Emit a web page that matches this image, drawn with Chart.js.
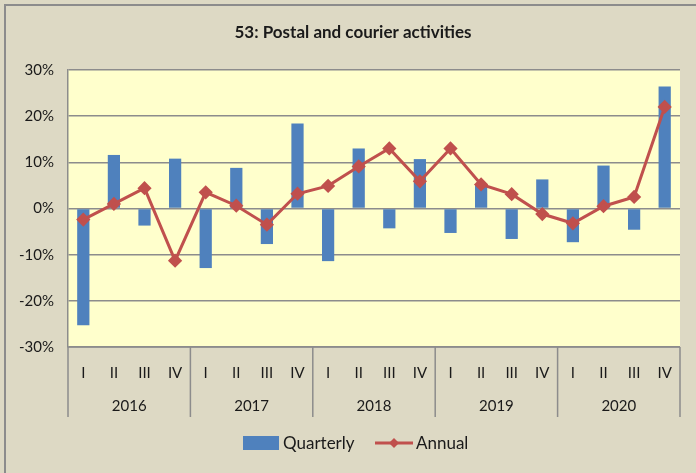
<!DOCTYPE html>
<html>
<head>
<meta charset="utf-8">
<script src="https://cdn.jsdelivr.net/npm/chart.js@4"></script>
<style>
  html, body { margin: 0; padding: 0; background: #ddd9c4; }
  #wrap { width: 696px; height: 473px; position: relative; }
</style>
</head>
<body>
<div id="wrap"><canvas id="chart" width="696" height="473"></canvas></div>
<script>
const quarters = ['I', 'II', 'III', 'IV'];
const years = ['2016', '2017', '2018', '2019', '2020'];
const labels = years.flatMap(y => quarters);

const quarterly = [-25.3, 11.6, -3.7, 10.8, -12.9, 8.8, -7.7, 18.4, -11.4, 13.0,
                   -4.3, 10.7, -5.3, 5.3, -6.6, 6.3, -7.3, 9.3, -4.6, 26.4];
const annual = [-2.4, 1.0, 4.4, -11.3, 3.5, 0.6, -3.5, 3.2, 4.9, 9.1,
                13.0, 5.9, 13.0, 5.2, 3.1, -1.2, -3.2, 0.5, 2.5, 22.0];

const title = '53: Postal and courier activities';

const FONT = 'Lato, "Open Sans", sans-serif';
const TXT = '#1a1a1a';

// background, outer frame, plot fill, title
const frame = {
  id: 'frame',
  beforeDraw(chart) {
    const { ctx, chartArea: a } = chart;
    ctx.save();
    ctx.fillStyle = '#ddd9c4';
    ctx.fillRect(0, 0, chart.width, chart.height);
    ctx.strokeStyle = '#8c8c8c';
    ctx.lineWidth = 2;
    ctx.beginPath();
    ctx.moveTo(5, chart.height);
    ctx.lineTo(5, 5);
    ctx.lineTo(chart.width, 5);
    ctx.stroke();
    ctx.fillStyle = '#ffffcc';
    ctx.fillRect(a.left, a.top, a.right - a.left, a.bottom - a.top);
    ctx.fillStyle = TXT;
    ctx.font = 'bold 17px ' + FONT;
    ctx.textAlign = 'center';
    ctx.textBaseline = 'middle';
    ctx.fillText(title, 353, 33);
    ctx.restore();
  }
};

// year groups under the quarter labels, plus legend
const groups = {
  id: 'groups',
  afterDraw(chart) {
    const { ctx, chartArea: a } = chart;
    const x = chart.scales.x;
    ctx.save();
    ctx.strokeStyle = '#8c8c8c';
    ctx.lineWidth = 1.5;
    ctx.beginPath();
    ctx.moveTo(a.left, a.bottom);
    ctx.lineTo(a.right, a.bottom);
    for (let g = 0; g <= years.length; g++) {
      let px;
      if (g === 0) px = a.left;
      else if (g === years.length) px = a.right;
      else px = (x.getPixelForValue(g * 4 - 1) + x.getPixelForValue(g * 4)) / 2;
      ctx.moveTo(px, a.bottom);
      ctx.lineTo(px, a.bottom + 70);
    }
    ctx.stroke();
    ctx.fillStyle = TXT;
    ctx.font = '15px ' + FONT;
    ctx.textAlign = 'center';
    ctx.textBaseline = 'middle';
    years.forEach((y, g) => {
      const c = (x.getPixelForValue(g * 4 + 1) + x.getPixelForValue(g * 4 + 2)) / 2;
      ctx.fillText(y, c, a.bottom + 59);
    });

    // legend
    const ly = 443;
    ctx.fillStyle = '#4f81bd';
    ctx.fillRect(243, ly - 7, 36, 14);
    ctx.fillStyle = TXT;
    ctx.textAlign = 'left';
    ctx.font = '17px ' + FONT;
    ctx.fillText('Quarterly', 283, ly + 1);
    ctx.strokeStyle = '#c0504d';
    ctx.lineWidth = 3;
    ctx.beginPath();
    ctx.moveTo(375, ly);
    ctx.lineTo(413, ly);
    ctx.stroke();
    ctx.fillStyle = '#c0504d';
    ctx.beginPath();
    ctx.moveTo(394, ly - 5);
    ctx.lineTo(399, ly);
    ctx.lineTo(394, ly + 5);
    ctx.lineTo(389, ly);
    ctx.closePath();
    ctx.fill();
    ctx.fillStyle = TXT;
    ctx.fillText('Annual', 416, ly + 1);
    ctx.restore();
  }
};

new Chart(document.getElementById('chart'), {
  data: {
    labels: labels,
    datasets: [
      {
        type: 'line',
        label: 'Annual',
        data: annual,
        borderColor: '#c0504d',
        backgroundColor: '#c0504d',
        borderWidth: 3,
        pointStyle: 'rectRot',
        pointRadius: 5,
        pointHoverRadius: 5,
        tension: 0,
        order: 0
      },
      {
        type: 'bar',
        label: 'Quarterly',
        data: quarterly,
        backgroundColor: '#4f81bd',
        barPercentage: 0.4,
        categoryPercentage: 1,
        order: 1
      }
    ]
  },
  options: {
    responsive: false,
    animation: false,
    layout: { padding: { left: 0, right: 16, top: 70, bottom: 46 } },
    plugins: {
      legend: { display: false },
      tooltip: { enabled: false },
      title: { display: false }
    },
    scales: {
      x: {
        offset: true,
        grid: { display: false, drawTicks: false },
        border: { display: false },
        ticks: { color: TXT, font: { family: FONT, size: 15 }, padding: 17, maxRotation: 0, autoSkip: false },
        afterFit(s) { s.height = 80; }
      },
      y: {
        min: -30,
        max: 30,
        ticks: {
          stepSize: 10,
          color: TXT,
          font: { family: FONT, size: 15 },
          padding: 14,
          callback: v => v + '%'
        },
        grid: { color: '#8c8c8c', lineWidth: 1.5, drawTicks: false },
        border: { color: '#8c8c8c', width: 1.5 },
        afterFit(s) { s.width = 68; }
      }
    }
  },
  plugins: [frame, groups]
});
</script>
</body>
</html>
